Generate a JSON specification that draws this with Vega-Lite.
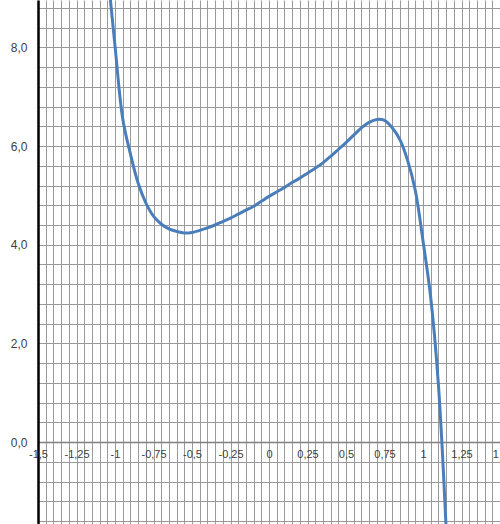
{
  "$schema": "https://vega.github.io/schema/vega-lite/v6.json",
  "width": 462,
  "height": 524,
  "autosize": "none",
  "padding": {"left": 38, "top": 0, "right": 0, "bottom": 0},
  "background": "white",
  "data": {
    "values": [
      {"x": -1.05, "y": 9.6},
      {"x": -1.0, "y": 8.03},
      {"x": -0.95, "y": 6.56},
      {"x": -0.9, "y": 5.84},
      {"x": -0.85, "y": 5.25},
      {"x": -0.8, "y": 4.85},
      {"x": -0.75, "y": 4.58},
      {"x": -0.7, "y": 4.42},
      {"x": -0.65, "y": 4.32},
      {"x": -0.6, "y": 4.27},
      {"x": -0.55, "y": 4.24},
      {"x": -0.5, "y": 4.25},
      {"x": -0.45, "y": 4.29},
      {"x": -0.4, "y": 4.34},
      {"x": -0.35, "y": 4.4},
      {"x": -0.3, "y": 4.47},
      {"x": -0.25, "y": 4.54},
      {"x": -0.2, "y": 4.62},
      {"x": -0.15, "y": 4.7},
      {"x": -0.1, "y": 4.78},
      {"x": -0.05, "y": 4.88},
      {"x": 0.0, "y": 4.98},
      {"x": 0.05, "y": 5.07},
      {"x": 0.1, "y": 5.16},
      {"x": 0.15, "y": 5.26},
      {"x": 0.2, "y": 5.35},
      {"x": 0.25, "y": 5.45},
      {"x": 0.3, "y": 5.55},
      {"x": 0.35, "y": 5.66},
      {"x": 0.4, "y": 5.79},
      {"x": 0.45, "y": 5.93},
      {"x": 0.5, "y": 6.07},
      {"x": 0.55, "y": 6.22},
      {"x": 0.6, "y": 6.37},
      {"x": 0.65, "y": 6.48},
      {"x": 0.7, "y": 6.54},
      {"x": 0.75, "y": 6.52},
      {"x": 0.8, "y": 6.37},
      {"x": 0.85, "y": 6.13},
      {"x": 0.9, "y": 5.71},
      {"x": 0.95, "y": 5.1},
      {"x": 1.0, "y": 4.08},
      {"x": 1.05, "y": 2.93},
      {"x": 1.1, "y": 1.17},
      {"x": 1.15, "y": -1.73}
    ]
  },
  "mark": {
    "type": "line",
    "interpolate": "catmull-rom",
    "clip": true,
    "color": "#4a7ebb",
    "strokeWidth": 3
  },
  "encoding": {
    "x": {
      "field": "x",
      "type": "quantitative",
      "scale": {"domain": [-1.5, 1.5], "nice": false, "zero": false},
      "axis": {
        "title": null,
        "offset": -82,
        "ticks": false,
        "values": [-1.5, -1.45, -1.4, -1.35, -1.3, -1.25, -1.2, -1.15, -1.1, -1.05, -1.0, -0.95, -0.9, -0.85, -0.8, -0.75, -0.7, -0.65, -0.6, -0.55, -0.5, -0.45, -0.4, -0.35, -0.3, -0.25, -0.2, -0.15, -0.1, -0.05, 0, 0.05, 0.1, 0.15, 0.2, 0.25, 0.3, 0.35, 0.4, 0.45, 0.5, 0.55, 0.6, 0.65, 0.7, 0.75, 0.8, 0.85, 0.9, 0.95, 1.0, 1.05, 1.1, 1.15, 1.2, 1.25, 1.3, 1.35, 1.4, 1.45, 1.5],
        "labelExpr": "abs(datum.value * 4 - round(datum.value * 4)) < 0.001 ? replace(toString(datum.value), '.', ',') : ''",
        "labelOverlap": false,
        "labelBound": false,
        "labelFlush": false,
        "labelPadding": 6,
        "labelFont": "Liberation Sans",
        "labelFontSize": 11,
        "labelColor": "#404040",
        "domainColor": "#808080",
        "domainWidth": 1.5,
        "grid": true,
        "gridColor": "#9a9a9a",
        "gridWidth": 1
      }
    },
    "y": {
      "field": "y",
      "type": "quantitative",
      "scale": {"domain": [-1.66, 8.96], "nice": false, "zero": false},
      "axis": {
        "title": null,
        "ticks": false,
        "values": [-1.6, -1.2, -0.8, -0.4, 0, 0.4, 0.8, 1.2, 1.6, 2, 2.4, 2.8, 3.2, 3.6, 4, 4.4, 4.8, 5.2, 5.6, 6, 6.4, 6.8, 7.2, 7.6, 8, 8.4, 8.8],
        "labelExpr": "abs(datum.value - 2 * round(datum.value / 2)) < 0.001 ? replace(format(datum.value, '.1f'), '.', ',') : ''",
        "labelOverlap": false,
        "labelBound": false,
        "labelPadding": 11,
        "labelFont": "Liberation Sans",
        "labelFontSize": 12,
        "labelColor": "#404040",
        "domainColor": "#000000",
        "domainWidth": 2.5,
        "grid": true,
        "gridColor": "#9a9a9a",
        "gridWidth": 1
      }
    }
  },
  "config": {
    "view": {"stroke": null}
  }
}
